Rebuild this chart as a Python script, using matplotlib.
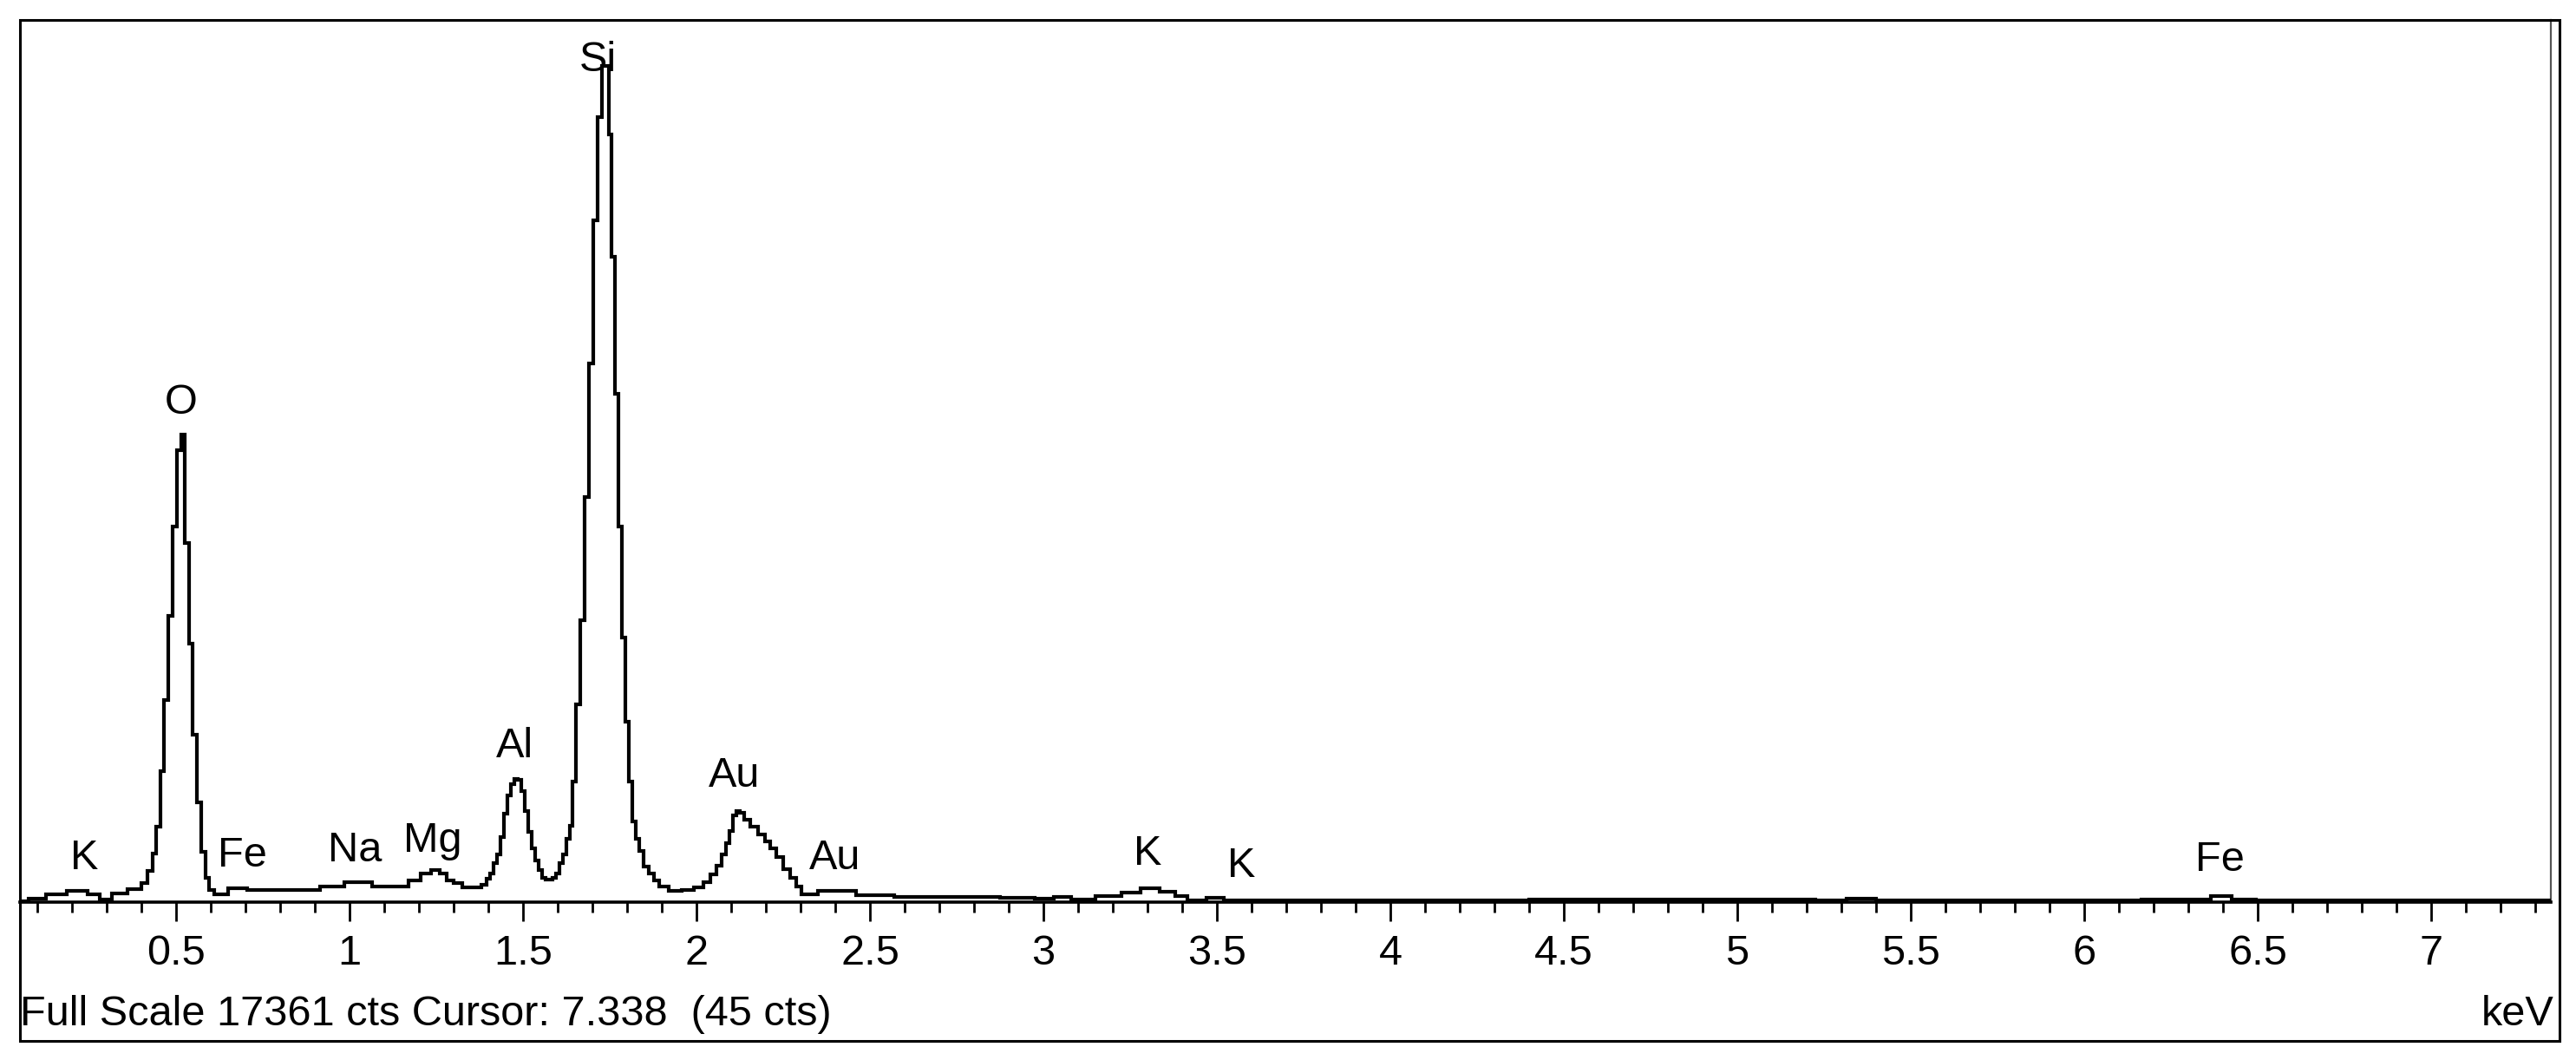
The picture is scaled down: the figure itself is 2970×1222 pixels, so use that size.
import matplotlib
matplotlib.use("Agg")
import matplotlib.pyplot as plt
import numpy as np
from matplotlib.patches import Rectangle

# EDS spectrum: energy (keV) and counts
energy_kev = [
    0.05, 0.10, 0.15, 0.22, 0.27, 0.29, 0.34, 0.38, 0.39, 0.41,
    0.425, 0.438, 0.448, 0.46, 0.472, 0.485, 0.497, 0.509, 0.52, 0.532,
    0.542, 0.554, 0.567, 0.579, 0.59, 0.60, 0.62, 0.64, 0.66, 0.69,
    0.72, 0.80, 0.90, 0.93, 0.97, 1.00, 1.05, 1.08, 1.15, 1.19,
    1.22, 1.25, 1.27, 1.29, 1.31, 1.34, 1.37, 1.39, 1.40, 1.41,
    1.42, 1.43, 1.44, 1.45, 1.46, 1.47, 1.48, 1.49, 1.50, 1.51,
    1.52, 1.53, 1.54, 1.55, 1.56, 1.57, 1.58, 1.59, 1.60, 1.61,
    1.62, 1.63, 1.638, 1.646, 1.658, 1.670, 1.683, 1.695, 1.708, 1.720,
    1.733, 1.742, 1.752, 1.760, 1.770, 1.780, 1.790, 1.800, 1.810, 1.820,
    1.830, 1.840, 1.855, 1.870, 1.885, 1.900, 1.94, 1.975, 2.01, 2.03,
    2.05, 2.067, 2.08, 2.09, 2.10, 2.11, 2.12, 2.13, 2.145, 2.167,
    2.19, 2.205, 2.22, 2.24, 2.26, 2.28, 2.295, 2.31, 2.34, 2.36,
    2.40, 2.45, 2.47, 2.54, 2.60, 2.80, 2.95, 3.00, 3.06, 3.10,
    3.20, 3.25, 3.31, 3.36, 3.40, 3.43, 3.51, 3.53, 4.00, 4.80,
    5.20, 5.25, 5.38, 5.42, 6.00, 6.33, 6.40, 6.45, 6.54, 7.00,
    7.37,
]
counts = [
    20, 70, 150, 220, 150, 50, 170, 260, 260, 370,
    610, 950, 1490, 2580, 3970, 5640, 7400, 8900, 9200, 7060,
    5090, 3290, 1970, 985, 475, 240, 150, 150, 270, 270,
    240, 240, 240, 300, 300, 390, 390, 310, 310, 420,
    560, 630, 560, 430, 370, 290, 290, 340, 455, 570,
    770, 940, 1280, 1735, 2105, 2330, 2420, 2405, 2190, 1790,
    1390, 1050, 825, 625, 485, 440, 440, 485, 570, 770,
    940, 1250, 1500, 2365, 3900, 5555, 7975, 10600, 13420, 15455,
    16450, 16450, 15100, 12700, 10000, 7400, 5200, 3550, 2370, 1580,
    1250, 1000, 700, 570, 420, 310, 230, 240, 285, 400,
    540, 710, 940, 1165, 1395, 1710, 1790, 1765, 1620, 1480,
    1340, 1195, 1050, 880, 655, 485, 315, 155, 155, 230,
    230, 230, 140, 140, 100, 100, 90, 60, 110, 50,
    115, 190, 275, 200, 115, 40, 90, 40, 35, 45,
    45, 35, 60, 35, 35, 50, 115, 50, 35, 30,
    30,
]

peak_labels = ["K", "O", "Fe", "Na", "Mg", "Al", "Si", "Au", "Au", "K", "K", "Fe"]
label_kev = [0.235, 0.513, 0.69, 1.015, 1.24, 1.475, 1.715, 2.11, 2.40, 3.30, 3.57, 6.39]
label_counts = [870, 9830, 905, 1010, 1195, 3070, 16560, 2490, 870, 940, 715, 820]

major_ticks = [0.5, 1, 1.5, 2, 2.5, 3, 3.5, 4, 4.5, 5, 5.5, 6, 6.5, 7]
major_labels = ["0.5", "1", "1.5", "2", "2.5", "3", "3.5", "4", "4.5", "5", "5.5", "6", "6.5", "7"]

full_scale = 17361
status_text = "Full Scale 17361 cts Cursor: 7.338  (45 cts)"

W, H = 2970, 1222
FONT = ["Liberation Sans", "Arial", "DejaVu Sans"]
FS = 35

fig = plt.figure(figsize=(W / 100, H / 100), dpi=100)
fig.patch.set_facecolor("white")

# plot area: left border to inner right line, baseline to top border
x_left, x_right, y_base, y_top = 23, 2941, 1040, 23
ax = fig.add_axes([x_left / W, (H - y_base) / H, (x_right - x_left) / W, (y_base - y_top) / H])
ax.set_xlim(0.05, 7.345)
ax.set_ylim(0, full_scale)
ax.set_facecolor("none")

ax.plot(energy_kev, counts, color="black", lw=3.0, drawstyle="steps-mid",
        solid_joinstyle="miter", zorder=3)

for lab, xk, yc in zip(peak_labels, label_kev, label_counts):
    ax.text(xk, yc, lab, ha="center", va="center", fontsize=FS, family=FONT, zorder=4)

for side in ("top", "left"):
    ax.spines[side].set_visible(False)
ax.spines["bottom"].set_linewidth(2.6)
ax.spines["right"].set_linewidth(1.6)
ax.spines["right"].set_color("#555555")

ax.set_yticks([])
ax.set_xticks(major_ticks)
ax.set_xticklabels(major_labels, fontsize=FS, family=FONT)
ax.set_xticks(np.round(np.arange(0.1, 7.35, 0.1), 2), minor=True)
ax.tick_params(axis="x", which="major", direction="out", length=16, width=2.0, pad=11)
ax.tick_params(axis="x", which="minor", direction="out", length=8.5, width=2.0)

fig.text(x_left / W, (H - 1170) / H, status_text, ha="left", va="center",
         fontsize=FS, family=FONT)
fig.text(2944 / W, (H - 1170) / H, "keV", ha="right", va="center",
         fontsize=FS, family=FONT)

# outer frame
fig.add_artist(Rectangle((23 / W, (H - 1200) / H), (2951 - 23) / W, (1200 - 23) / H,
                         transform=fig.transFigure, fill=False, lw=2.2, ec="black"))

fig.savefig("out.png", dpi=100, facecolor="white")
